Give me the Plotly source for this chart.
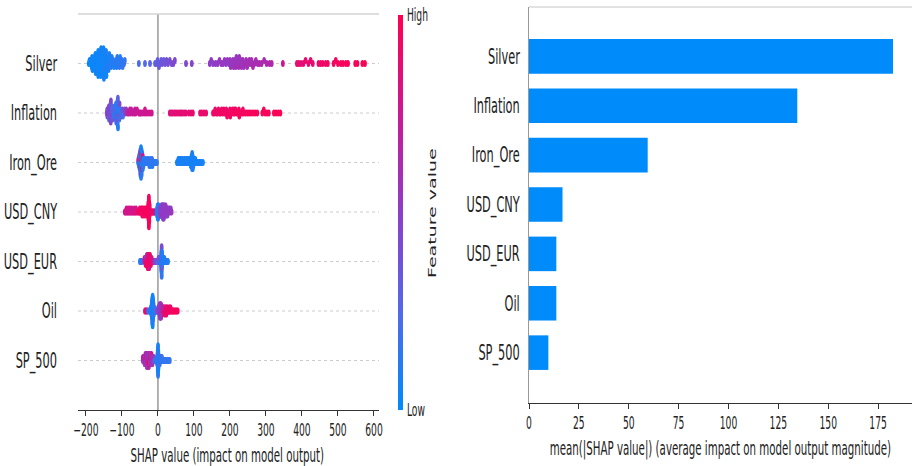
import numpy as np
import plotly.graph_objects as go

# ---------------------------------------------------------------- data
features = ["Silver", "Inflation", "Iron_Ore", "USD_CNY", "USD_EUR", "Oil", "SP_500"]
mean_abs_shap = [182.5, 134.5, 59.5, 16.8, 13.7, 13.7, 9.7]
x_ticks_left = [-200, -100, 0, 100, 200, 300, 400, 500, 600]
x_ticks_right = [0, 25, 50, 75, 100, 125, 150, 175]

# (SHAP value, normalised feature value) per observation
silver = [
    (-192, .02), (-190, .03),
    (-187, .02), (-185, .04), (-184, .03), (-183, .05), (-182, .02),
    (-179, .03), (-178, .05), (-177, .02), (-176, .04), (-175, .06), (-174, .03), (-173, .05),
    (-172, .04), (-171, .02), (-170, .06), (-169, .03), (-169, .05), (-168, .04), (-167, .07), (-166, .03), (-166, .05),
    (-164, .04), (-163, .06), (-163, .02), (-162, .05), (-161, .03), (-161, .07), (-160, .04), (-159, .06), (-159, .03), (-158, .05),
    (-157, .04), (-156, .06), (-155, .03), (-155, .07), (-154, .05), (-153, .04), (-153, .08), (-152, .06), (-151, .03), (-151, .05), (-150, .07),
    (-149, .06), (-148, .04), (-147, .08), (-147, .05), (-146, .07), (-145, .04), (-144, .06), (-144, .09), (-143, .05),
    (-141, .08), (-140, .06), (-139, .10), (-138, .07), (-137, .09), (-135, .08),
    (-134, .10), (-132, .08), (-130, .11), (-128, .09),
    (-125, .10), (-124, .12), (-122, .09), (-118, .11), (-116, .13), (-115, .10), (-113, .12), (-110, .14),
    (-108, .11), (-107, .13), (-105, .12), (-102, .14), (-100, .13), (-98, .15), (-94, .14), (-92, .16),
    (-53, .22), (-36, .25), (-22, .27),
    (-8, .30), (-4, .33), (-1, .31), (3, .35), (6, .33), (9, .36), (12, .38), (16, .35), (20, .40), (24, .37),
    (28, .40), (33, .42), (38, .40), (43, .43), (47, .44),
    (78, .46), (94, .47),
    (144, .50), (148, .52), (153, .50), (160, .53), (166, .51), (171, .54), (176, .52), (181, .55), (185, .53),
    (189, .50), (193, .55), (197, .53),
    (200, .54), (202, .56), (205, .52), (208, .55), (210, .57), (212, .53), (214, .56), (216, .58), (218, .54),
    (220, .57), (222, .55), (224, .59), (226, .56), (228, .58), (230, .55), (232, .60), (234, .57), (236, .59),
    (239, .56), (242, .60), (245, .58), (248, .61), (251, .57), (254, .60), (257, .62), (260, .59), (264, .61),
    (268, .60), (272, .63), (277, .60), (282, .62), (288, .64), (295, .61), (302, .63), (310, .65), (316, .64),
    (347, .78),
    (386, .86), (391, .88), (397, .87), (404, .89), (410, .90), (418, .88), (424, .91), (430, .90), (446, .92),
    (452, .91), (458, .93), (466, .92), (472, .94), (488, .95), (494, .94), (500, .96), (508, .95), (514, .97),
    (522, .96), (528, .97), (548, .98), (554, .97), (568, .99), (575, 1.0),
]

inflation = [
    (-142, .45), (-141, .42), (-140.5, .47),
    (-138.5, .44), (-138, .40), (-137, .46), (-136.5, .43), (-136, .20),
    (-134, .45), (-133.5, .48), (-133, .42), (-132.5, .46), (-132, .44), (-131.5, .40), (-131, .47), (-130.5, .43),
    (-129, .38), (-128, .30), (-127.5, .42), (-127, .25), (-126, .35),
    (-124, .20), (-123, .32), (-122, .15), (-121, .28),
    (-120, .12), (-119, .30), (-118.5, .10), (-118, .18), (-117, .40), (-116.5, .14), (-116, .22),
    (-115.2, .08), (-114.8, .12), (-114.3, .35), (-113.8, .10), (-113.3, .06), (-112.9, .15), (-112.4, .40),
    (-112, .09), (-111.6, .13), (-111.2, .30), (-110.9, .11),
    (-110, .10), (-109, .14), (-108.5, .38), (-108, .12), (-107, .20), (-106.5, .42),
    (-105, .12), (-103.5, .15), (-102, .35), (-100, .18), (-98.5, .40), (-97, .20),
    (-95, .25), (-92.5, .45), (-90, .50), (-88, .55),
    (-84, .70), (-81, .72), (-78, .74), (-76, .73), (-74, .70), (-70, .76), (-66, .72), (-64, .74), (-62, .75),
    (-58, .73), (-53, .77), (-50, .75), (-48, .74), (-43, .76), (-38, .75), (-36, .77), (-33, .78), (-28, .76),
    (-22, .78), (-17, .77),
    (33, .84), (37, .86), (41, .85), (46, .87), (50, .86), (55, .88), (60, .85), (64, .87), (68, .88), (73, .86),
    (78, .89), (86, .87), (92, .88), (97, .90),
    (117, .88), (122, .90), (128, .89), (134, .90),
    (153, .90), (156, .92), (159, .91), (162, .93), (165, .90), (168, .92), (171, .94), (174, .91), (177, .93),
    (180, .95), (183, .92), (186, .94), (189, .93), (190, .91), (192, .95), (195, .92), (198, .94), (200, .95),
    (201, .96), (204, .93), (207, .95), (210, .94), (212, .93), (213, .96), (216, .93), (219, .95), (222, .97),
    (225, .96), (226, .94), (230, .96), (234, .95), (236, .94), (238, .97), (243, .94), (248, .96), (253, .95),
    (258, .97), (264, .96), (270, .98), (276, .97),
    (290, .95), (294, .97), (298, .96), (303, .98), (308, .97), (322, .96), (328, .98), (334, .97), (340, .99),
]

iron_ore = [
    (-55, .10), (-54.5, .85),
    (-53.5, .08), (-53, .80), (-52.8, .12), (-52.5, .06),
    (-51.8, .10), (-51.5, .75), (-51.2, .05), (-51, .88), (-50.8, .12), (-50.6, .07),
    (-50.2, .09), (-50, .82), (-49.8, .06), (-49.6, .11), (-49.4, .90), (-49.2, .04), (-49, .13), (-48.9, .78), (-48.8, .08),
    (-48.6, .05), (-48.4, .12), (-48.2, .86), (-48, .07), (-47.8, .10), (-47.6, .92), (-47.4, .04), (-47.2, .14),
    (-47.1, .80), (-47, .06), (-46.95, .11),
    (-46.8, .09), (-46.6, .84), (-46.3, .05), (-46, .13), (-45.8, .07), (-45.6, .88), (-45.4, .10), (-45.2, .06), (-45.15, .12),
    (-44.9, .08), (-44.6, .79), (-44.3, .11), (-44, .06), (-43.7, .90), (-43.4, .10),
    (-43.1, .09), (-42.8, .13), (-42.5, .07), (-42, .85), (-41.7, .10),
    (-41.2, .12), (-40.5, .08), (-40, .14),
    (-39, .12), (-38, .10), (-36, .15), (-35, .12), (-33, .14), (-31, .11), (-30, .16), (-30, .13), (-28, .12),
    (-26, .15), (-25, .11), (-25, .17), (-24, .14), (-22, .12), (-21, .16), (-20, .13), (-20, .10), (-18, .15),
    (-16, .12), (-16, .18), (-15, .14), (-13, .11), (-11, .16), (-9, .13), (-7, .15), (-5, .12), (-3, .14),
    (53, .06), (54, .08), (56, .05), (56.5, .09), (58, .07), (59, .04), (60.5, .08), (61, .06), (63, .09), (63.5, .05),
    (65, .07), (66, .10), (67.5, .06), (68, .08), (70, .05), (70.5, .09), (72, .07), (73, .04), (74.5, .08), (75, .06),
    (77, .09), (77.5, .05), (79, .07), (80, .10), (81.5, .06), (82, .08), (84, .05), (84.5, .09), (86, .07), (87, .04),
    (88.5, .08), (89, .06), (90, .09), (90.6, .05), (91.2, .07), (91.8, .10), (92.2, .06), (92.7, .08), (93.2, .04),
    (93.6, .07), (93.9, .09), (94.2, .05), (94.5, .08), (94.8, .06), (95.1, .10), (95.4, .07), (95.8, .04), (96.2, .09),
    (96.6, .06), (97, .08), (97.4, .05), (98, .07), (98.6, .09), (99.5, .06), (100, .08), (101.5, .05), (102, .07),
    (103.5, .09), (104, .06), (106, .08), (107, .05), (109, .07), (110, .09), (112, .06), (114, .08), (116, .05),
    (118, .07), (121, .09), (125, .06),
]

usd_cny = [
    (-92, .78), (-90, .80), (-88, .76), (-87.5, .79), (-85, .81), (-83, .77), (-82.5, .80), (-80, .78), (-78, .82),
    (-77.6, .79), (-75, .77), (-73, .81), (-72.6, .78), (-70, .80), (-68, .79), (-66, .82), (-65.6, .78), (-63, .80),
    (-61, .81), (-60.6, .79), (-58, .83),
    (-55, .92), (-53, .94), (-51, .93), (-50.6, .95), (-49, .92), (-47.5, .96), (-47.1, .93), (-46, .95), (-44.5, .94),
    (-44.1, .97), (-43.7, .92), (-42, .95), (-40.5, .96), (-40.1, .93), (-39.7, .95), (-38, .94), (-36.5, .97),
    (-36.1, .95), (-35.7, .93), (-34, .96), (-33, .94), (-32.6, .97),
    (-28.8, .95), (-28.4, .97), (-28, .94),
    (-27.5, .96), (-27.3, .98), (-27.1, .95), (-26.9, .97), (-26.7, .99), (-26.5, .96),
    (-26.3, .98), (-26.25, .95), (-26.1, .97), (-25.95, 1.0), (-25.8, .96), (-25.65, .98), (-25.5, .94), (-25.35, .97),
    (-25.2, .99), (-25.15, .96), (-25.1, .98),
    (-24.95, .97), (-24.8, .95), (-24.6, .99), (-24.4, .96), (-24.2, .98), (-24, .94), (-23.85, .97),
    (-23.6, .95), (-23.3, .98), (-23, .96), (-22.7, .93),
    (-21, .90), (-19.5, .88), (-18, .91), (-16, .86), (-14.5, .89), (-13, .85), (-11, .88), (-9, .84), (-7, .87), (-5.5, .82),
    (-2.8, .08), (-2.5, .12), (-2.2, .06),
    (-1.5, .10), (-1.3, .05), (-1.1, .13), (-0.9, .07), (-0.7, .11),
    (-0.2, .09), (0, .14), (0.2, .06), (0.4, .12), (0.6, .08),
    (1.1, .10), (1.4, .15), (1.7, .07), (2, .12),
    (2.5, .09), (2.9, .18), (3.3, .11), (4, .20), (4.5, .14),
    (5, .42), (5.4, .48), (5.9, .40), (6.3, .50), (6.7, .44), (7.1, .52), (7.6, .46), (8, .55), (8.4, .43),
    (8.9, .50), (9.2, .47), (9.5, .53), (9.8, .45), (10.2, .51), (10.5, .48), (10.8, .56), (11.1, .44),
    (11.5, .52), (11.8, .47), (12.1, .54), (12.4, .49), (12.8, .46), (13.1, .53), (13.4, .50), (13.7, .57), (13.9, .45),
    (14.1, .51), (14.4, .48), (14.7, .55), (15, .46), (15.2, .52), (15.4, .49), (15.7, .56), (16, .47), (16.3, .53), (16.5, .50),
    (17.9, .52), (18.3, .48), (18.7, .55), (19.1, .50), (20.6, .53), (21, .47), (21.4, .56), (21.7, .51),
    (23.2, .49), (23.6, .54), (24, .52), (25.8, .50), (26.3, .55), (26.8, .48), (28.5, .53), (29.2, .51),
    (31, .56), (32, .50), (35, .54), (36, .52), (38, .55),
]

usd_eur = [
    (-50, .10), (-48, .14), (-46.5, .12), (-45, .15),
    (-37.6, .50), (-37.4, .85), (-36, .78),
    (-34.6, .88), (-34.4, .52), (-34.2, .92), (-33, .86),
    (-31.5, .90), (-31.35, .75), (-31.2, .94), (-31.05, .48), (-30, .88),
    (-29.2, .92), (-29.05, .86), (-28.9, .96), (-28.75, .78), (-28.65, .90), (-27.8, .93),
    (-26.9, .95), (-26.75, .88), (-26.6, .92), (-26.45, .80), (-26.3, .97), (-25.5, .90),
    (-24.55, .93), (-24.4, .86), (-24.25, .96), (-24.1, .90), (-23.95, .82), (-23, .94),
    (-22.2, .91), (-22.05, .97), (-21.9, .85), (-21.75, .93), (-20.7, .88),
    (-19.8, .92), (-19.6, .80), (-19.4, .95), (-18.5, .87),
    (-17.4, .90), (-17.1, .84), (-16, .93), (-14.1, .86), (-12, .70), (-9, .55), (-6, .45), (-3, .35),
    (0, .30), (1.5, .25), (1.6, .40), (3, .22), (3.1, .45), (4, .20), (5, .38), (5.1, .18), (6, .30), (7, .15), (7.05, .42),
    (7.7, .12), (7.8, .35),
    (8.3, .20), (8.5, .44), (8.7, .14),
    (8.95, .10), (9.0, .38), (9.1, .16), (9.25, .45), (9.4, .12), (9.55, .30), (9.62, .08),
    (9.7, .14), (9.75, .40), (9.8, .10), (9.85, .22), (9.9, .06), (10, .35), (10.1, .12), (10.2, .18),
    (10.3, .09), (10.35, .42), (10.4, .15),
    (10.5, .11), (10.65, .28), (10.8, .08), (10.95, .16), (11.1, .36), (11.2, .10),
    (11.4, .13), (11.6, .07), (11.8, .20), (11.9, .11),
    (12.3, .09), (12.5, .14),
    (13.5, .10), (13.6, .16), (15, .08), (15.1, .12), (16.5, .10), (18, .13), (18.1, .07), (20, .11), (22, .09),
    (24, .12), (26, .08), (28, .10),
]

oil = [
    (-36, .90), (-34, .92), (-32, .88), (-30, .80),
    (-27, .15), (-25, .10), (-23, .18), (-21, .12),
    (-19.7, .08), (-19.5, .12),
    (-18.9, .06), (-18.7, .10), (-18.5, .14),
    (-18, .07), (-17.85, .11), (-17.7, .05), (-17.55, .13),
    (-17.2, .09), (-17.1, .04), (-16.95, .12), (-16.8, .07), (-16.65, .10), (-16.5, .06),
    (-16.35, .11), (-16.3, .05), (-16.2, .13), (-16.1, .08), (-16.05, .03), (-15.9, .10), (-15.75, .06), (-15.65, .12), (-15.6, .09),
    (-15.45, .07), (-15.35, .11), (-15.3, .04), (-15.25, .09), (-15.2, .13), (-15.1, .06), (-15, .10), (-14.9, .05),
    (-14.8, .12), (-14.7, .08), (-14.65, .03),
    (-14.5, .09), (-14.45, .06), (-14.35, .12), (-14.3, .05), (-14.2, .10), (-14.05, .07), (-13.9, .11), (-13.8, .04),
    (-13.6, .08), (-13.45, .12), (-13.3, .06), (-13.15, .10), (-13, .05), (-12.9, .09),
    (-12.7, .11), (-12.5, .07), (-12.3, .13), (-12.1, .08),
    (-11.7, .10), (-11.4, .06), (-11.2, .12),
    (-10.7, .09), (-10.3, .14),
    (-9, .15), (-7.5, .12), (-6, .16), (-5, .20), (-3.5, .22),
    (-2, .40), (-1, .45), (0, .42), (0.5, .48), (1.5, .44), (2, .50), (2.5, .46), (3.5, .52),
    (3.7, .45), (4, .55), (4.3, .48), (4.45, .51),
    (4.6, .47), (4.8, .53), (5, .44), (5.2, .56), (5.35, .50),
    (5.5, .46), (5.7, .54), (5.9, .49), (6.1, .57), (6.25, .45),
    (6.4, .52), (6.6, .48), (6.8, .55), (7, .50), (7.15, .58),
    (7.3, .47), (7.5, .53), (7.7, .60), (7.9, .51), (8.05, .56),
    (8.2, .49), (8.4, .57), (8.6, .52), (8.8, .62), (8.95, .54),
    (9.2, .58), (9.5, .50), (9.8, .64), (10.1, .55), (10.4, .60), (10.7, .52), (11.3, .62), (11.6, .57),
    (12.5, .60), (13.1, .66), (13.3, .58),
    (14, .86), (14.3, .62), (15, .64), (15.1, .88), (16.5, .85), (16.8, .60), (17.1, .90),
    (19, .87), (19.3, .92), (19.6, .65), (21, .89), (21.3, .93), (21.6, .86), (21.85, .91),
    (23, .88), (23.3, .94), (23.6, .90), (25, .92), (25.3, .87), (25.6, .95),
    (27, .90), (27.3, .93), (27.6, .88), (29, .94), (29.3, .91), (31, .89), (31.3, .95),
    (33, .92), (33.4, .90), (35, .94), (35.4, .91), (37, .93), (39, .95), (41, .92),
    (43, .96), (45, .94), (47.5, .97), (50, .95), (52.5, .98), (55, .96),
]

sp_500 = [
    (-42, .50), (-41.8, .72),
    (-39.9, .48), (-39.7, .75),
    (-37.7, .52), (-37.5, .70), (-37.3, .46),
    (-35.5, .74), (-35.3, .50), (-35.1, .68), (-35, .45),
    (-33.3, .55), (-33.1, .78), (-32.9, .47), (-32.7, .72),
    (-31.8, .50), (-31.6, .80), (-31.5, .44), (-31.4, .70), (-31.2, .53),
    (-30.3, .76), (-30.1, .48), (-29.9, .82), (-29.7, .51),
    (-28.8, .45), (-28.6, .74), (-28.5, .56), (-28.4, .85), (-28.2, .49),
    (-27.3, .78), (-27.1, .52), (-26.9, .88), (-26.7, .46),
    (-25.8, .80), (-25.6, .50), (-25.5, .90), (-25.4, .55), (-25.2, .72),
    (-24.3, .86), (-24.1, .48), (-23.9, .92), (-23.7, .53),
    (-22.8, .75), (-22.6, .90), (-22.4, .47), (-22.2, .84),
    (-21.3, .52), (-21.1, .88), (-20.9, .70), (-20.7, .45),
    (-19.8, .82), (-19.6, .50), (-19.4, .76),
    (-18.3, .48), (-18.1, .72), (-17.9, .55), (-17.7, .80),
    (-16.8, .46), (-16.6, .68), (-16.4, .52),
    (-15.3, .74), (-15.1, .44), (-14.9, .60),
    (-13.7, .50), (-13.4, .66), (-12.2, .42), (-11.9, .58),
    (-10.5, .40), (-9, .36), (-7.5, .30), (-6, .28), (-4.5, .22), (-3.5, .18),
    (-2.5, .12), (-2.35, .08), (-2.2, .15),
    (-1.8, .06), (-1.6, .11), (-1.4, .04), (-1.2, .09),
    (-1.05, .07), (-0.95, .12), (-0.9, .05), (-0.75, .10), (-0.6, .03), (-0.55, .08), (-0.45, .13),
    (-0.35, .06), (-0.28, .10), (-0.21, .04), (-0.14, .12), (-0.07, .07), (0, .09), (0.07, .05), (0.14, .11),
    (0.21, .03), (0.28, .08), (0.35, .13),
    (0.45, .06), (0.5, .10), (0.6, .04), (0.75, .09), (0.9, .12), (1.0, .07), (1.05, .05),
    (1.2, .11), (1.4, .06), (1.5, .09), (1.6, .13), (1.8, .08),
    (2.1, .10), (2.3, .06), (2.5, .12),
    (3, .14), (3.2, .10), (4, .16), (4.2, .12), (5, .15), (5.2, .11), (5.4, .18), (6, .13), (6.2, .17), (7, .12),
    (7.3, .16), (8, .14), (8.2, .19), (9, .13), (9.3, .17), (10, .15), (11, .12), (11.3, .18), (12, .14),
    (13, .16), (14, .13), (15, .17), (16, .15), (17.5, .12), (19, .16), (21, .14), (23, .18), (25, .15),
    (28, .17), (30, .14), (33, .16),
]

swarm_data = [silver, inflation, iron_ore, usd_cny, usd_eur, oil, sp_500]

# ---------------------------------------------------------------- style
FONT = "DejaVu Sans"
SQUEEZE = 0.54          # horizontal squeeze of glyphs and dots (narrow rendering)
RED_BLUE = [
    [0.00, "rgb(0,139,251)"],
    [0.25, "rgb(83,105,232)"],
    [0.50, "rgb(140,62,200)"],
    [0.75, "rgb(203,25,148)"],
    [1.00, "rgb(255,0,82)"],
]
W, H = 912, 466
L_X = (78 / W, 379 / W)
L_Y = ((H - 410) / H, (H - 14) / H)
R_X = (529 / W, 1.0)
R_Y = ((H - 403) / H, (H - 7) / H)


def swarm_offsets(vals, nbins=100, row_height=0.4):
    """Vertical jitter of a beeswarm row: stack points that share a value bin."""
    vals = np.asarray(vals, dtype=float)
    quant = np.round(nbins * (vals - vals.min()) / (vals.max() - vals.min() + 1e-8))
    order = np.argsort(quant, kind="stable")
    ys = np.zeros(len(vals))
    layer, last_bin = 0, None
    for i in order:
        if quant[i] != last_bin:
            layer = 0
        ys[i] = np.ceil(layer / 2) * ((layer % 2) * 2 - 1)
        layer += 1
        last_bin = quant[i]
    ys *= 0.9 * (row_height / np.max(ys + 1))
    return ys


n_feat = len(features)
row_pos = [n_feat - 1 - i for i in range(n_feat)]   # Silver on top

fig = go.Figure()

# ---------------------------------------------------------------- beeswarm
for i, pts in enumerate(swarm_data):
    sv = [p[0] for p in pts]
    fv = [p[1] for p in pts]
    yy = row_pos[i] + swarm_offsets(sv)
    fig.add_trace(go.Scatter(
        x=sv, y=yy, mode="markers", xaxis="x", yaxis="y",
        marker=dict(
            size=7, color=fv, colorscale=RED_BLUE, cmin=0, cmax=1,
            showscale=(i == 0),
            colorbar=dict(
                x=398 / W, xanchor="left", xpad=0, ypad=0,
                y=(H - 212.5) / H, yanchor="middle",
                thickness=5, lenmode="pixels", len=395,
                outlinewidth=0, ticks="", tickvals=[0, 1], ticktext=["Low", "High"],
                tickfont=dict(family=FONT, size=17, color="#222"),
            ),
        ),
        showlegend=False, hoverinfo="skip",
    ))

# ---------------------------------------------------------------- bars
fig.add_trace(go.Bar(
    x=mean_abs_shap, y=row_pos, orientation="h", width=0.7, xaxis="x2", yaxis="y2",
    marker=dict(color="#008bfb", line=dict(width=0)), showlegend=False, hoverinfo="skip",
))

shapes = []
for r in row_pos:
    shapes.append(dict(type="line", xref="x domain", yref="y", x0=0, x1=1, y0=r, y1=r,
                       line=dict(color="#cccccc", width=1, dash="dot"), layer="below"))
shapes.append(dict(type="line", xref="x", yref="y domain", x0=0, x1=0, y0=0, y1=1,
                   line=dict(color="#999999", width=1.5), layer="below"))
shapes.append(dict(type="line", xref="x domain", yref="y domain", x0=0, x1=1, y0=1, y1=1,
                   line=dict(color="#d3d3d3", width=1.5), layer="below"))
shapes.append(dict(type="line", xref="x2 domain", yref="y2 domain", x0=0, x1=1, y0=1, y1=1,
                   line=dict(color="#d9d9d9", width=1.5), layer="below"))

axis_font = dict(family=FONT, size=17, color="#222")
label_font = dict(family=FONT, size=21, color="#222")
fig.update_layout(
    width=W, height=H, margin=dict(l=0, r=0, t=0, b=0, autoexpand=False),
    paper_bgcolor="white", plot_bgcolor="white",
    font=dict(family=FONT, color="#222"),
    xaxis=dict(domain=L_X, range=[-222, 614], tickvals=x_ticks_left, automargin=False,
               ticktext=[str(v).replace("-", "\u2212") for v in x_ticks_left], tickangle=0,
               showgrid=False, zeroline=False, showline=True, linecolor="#333", linewidth=1.2,
               ticks="outside", ticklen=5, tickcolor="#333", tickfont=axis_font),
    yaxis=dict(domain=L_Y, range=[-1, 7], tickvals=row_pos, ticktext=features, automargin=False,
               showgrid=False, zeroline=False, showline=False, ticks="",
               ticklabelstandoff=20, tickfont=label_font),
    xaxis2=dict(domain=R_X, range=[0, 192], tickvals=x_ticks_right, anchor="y2", tickangle=0,
                automargin=False,
                showgrid=False, zeroline=False, showline=True, linecolor="#333", linewidth=1.2,
                ticks="outside", ticklen=5, tickcolor="#333", tickfont=axis_font),
    yaxis2=dict(domain=R_Y, range=[-1.02, 7], tickvals=row_pos, ticktext=features, anchor="x2",
                automargin=False,
                showgrid=False, zeroline=False, showline=True, linecolor="#999", linewidth=1.2,
                ticks="", ticklabelstandoff=4, tickfont=label_font),
    shapes=shapes,
    annotations=[
        dict(text="SHAP value (impact on model output)", xref="paper", yref="paper",
             x=227.5 / W, y=(H - 455) / H, showarrow=False, xanchor="center", yanchor="middle",
             font=dict(family=FONT, size=19, color="#222")),
        dict(text="mean(|SHAP value|) (average impact on model output magnitude)", xref="paper", yref="paper",
             x=720 / W, y=(H - 448) / H, showarrow=False, xanchor="center", yanchor="middle",
             font=dict(family=FONT, size=19, color="#222")),
        dict(text="Feature value", xref="paper", yref="paper", textangle=-90,
             x=432 / W, y=(H - 213) / H, showarrow=False, xanchor="center", yanchor="middle",
             font=dict(family=FONT, size=19, color="#222")),
    ],
)

# Narrow rendering: squeeze every glyph run and scatter dot horizontally about
# its own anchor, so positions stay where the layout put them.
narrow_js = """
var gd = document.getElementById('{plot_id}');
var S = %s;
gd.querySelectorAll('svg text').forEach(function (t) {
  var txt = t.textContent;
  if (!txt) { return; }
  var bb = t.getBBox();
  var tr = t.getAttribute('transform') || '';
  if (txt === 'Feature value') {
    var cy = bb.y + bb.height / 2;
    t.setAttribute('transform', tr + ' translate(0,' + cy + ') scale(1,' + S + ') translate(0,' + (-cy) + ')');
  } else {
    var a = t.getAttribute('text-anchor') || 'start';
    var cx = a === 'end' ? bb.x + bb.width : (a === 'middle' ? bb.x + bb.width / 2 : bb.x);
    t.setAttribute('transform', tr + ' translate(' + cx + ',0) scale(' + S + ',1) translate(' + (-cx) + ',0)');
  }
});
gd.querySelectorAll('.scatterlayer path.point').forEach(function (p) {
  var tr = p.getAttribute('transform') || '';
  p.setAttribute('transform', tr + ' scale(' + S + ',1)');
});
""" % SQUEEZE

fig.write_html("out.html", post_script=narrow_js)
